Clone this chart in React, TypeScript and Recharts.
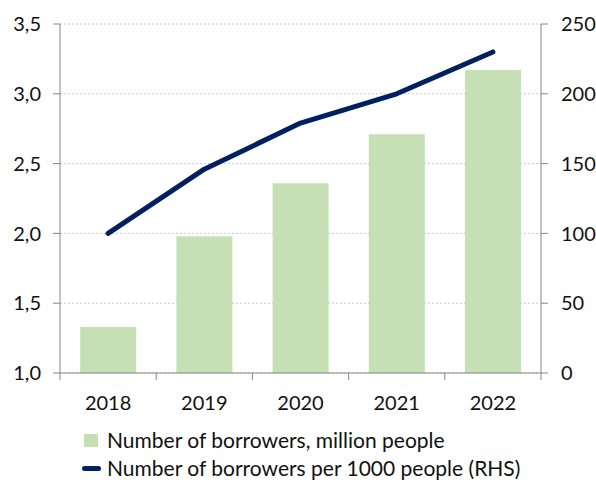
import { ComposedChart, Bar, Line, XAxis, YAxis, CartesianGrid } from 'recharts';

const YEARS = ['2018', '2019', '2020', '2021', '2022'];
const BORROWERS_MLN = [1.33, 1.98, 2.36, 2.71, 3.17];
const PER_1000 = [100, 146, 179, 200, 230];
const LEFT_TICKS = [1, 1.5, 2, 2.5, 3, 3.5];
const RIGHT_TICKS = [0, 50, 100, 150, 200, 250];

const BAR_LABEL = 'Number of borrowers, million people';
const LINE_LABEL = 'Number of borrowers per 1000 people (RHS)';

const FONT = 'Lato, "Open Sans", sans-serif';
const AXIS = '#868686';
const BAR_COLOR = '#c5e0b4';
const LINE_COLOR = '#002060';

const data = YEARS.map((year, i) => ({
  year,
  borrowers: BORROWERS_MLN[i],
  per1000: PER_1000[i],
}));

// excel-style category axis: tick marks sit between categories, not under them
const YearTick = (props: any) => {
  const { x, y, payload, index, visibleTicksCount } = props;
  const half = payload.offset ?? 48;
  const axisY = y - 7;
  const isLast = index === visibleTicksCount - 1;
  return (
    <g>
      <line x1={x - half} x2={x - half} y1={axisY} y2={axisY + 7} stroke={AXIS} />
      {isLast && <line x1={x + half} x2={x + half} y1={axisY} y2={axisY + 7} stroke={AXIS} />}
      <text x={x} y={axisY + 37} textAnchor="middle" fill="#111" fontSize={20} fontFamily={FONT}>
        {payload.value}
      </text>
    </g>
  );
};

export default function App() {
  const tickStyle = { fill: '#111', fontSize: 20, fontFamily: FONT };
  return (
    <div style={{ position: 'absolute', left: 0, top: 0, width: 596, height: 482, background: '#fff', fontFamily: FONT }}>
      <ComposedChart
        width={596}
        height={482}
        data={data}
        margin={{ top: 24, right: 0, bottom: 72, left: 0 }}
        barCategoryGap="21%"
      >
        <CartesianGrid vertical={false} yAxisId="left" stroke="#c8c8c8" strokeDasharray="2 2" />
        <XAxis
          dataKey="year"
          height={37}
          tickLine={false}
          tickSize={7}
          tickMargin={0}
          axisLine={{ stroke: AXIS }}
          tick={<YearTick />}
          interval={0}
        />
        <YAxis
          yAxisId="left"
          width={60}
          domain={[1, 3.5]}
          ticks={LEFT_TICKS}
          tickFormatter={(v: number) => v.toFixed(1).replace('.', ',')}
          axisLine={{ stroke: AXIS }}
          tickLine={{ stroke: AXIS }}
          tickSize={7}
          tickMargin={12}
          tick={tickStyle}
          allowDataOverflow
        />
        <YAxis
          yAxisId="right"
          orientation="right"
          width={55}
          domain={[0, 250]}
          ticks={RIGHT_TICKS}
          axisLine={{ stroke: AXIS }}
          tickLine={{ stroke: AXIS }}
          tickSize={7}
          tickMargin={13}
          tick={tickStyle}
        />
        <Bar yAxisId="left" dataKey="borrowers" fill={BAR_COLOR} isAnimationActive={false} />
        <Line
          yAxisId="right"
          type="linear"
          dataKey="per1000"
          stroke={LINE_COLOR}
          strokeWidth={5}
          strokeLinecap="round"
          strokeLinejoin="round"
          dot={false}
          activeDot={false}
          isAnimationActive={false}
        />
      </ComposedChart>

      <div style={{ position: 'absolute', left: 84, top: 430, fontSize: 21, color: '#111', lineHeight: '20px' }}>
        <div style={{ display: 'flex', alignItems: 'center', height: 20, marginBottom: 8 }}>
          <span style={{ width: 14, height: 13, background: BAR_COLOR, marginRight: 9 }} />
          <span>{BAR_LABEL}</span>
        </div>
        <div style={{ display: 'flex', alignItems: 'center', height: 20 }}>
          <span style={{ width: 19, height: 5, borderRadius: 3, background: LINE_COLOR, marginLeft: -2, marginRight: 6 }} />
          <span>{LINE_LABEL}</span>
        </div>
      </div>
    </div>
  );
}
